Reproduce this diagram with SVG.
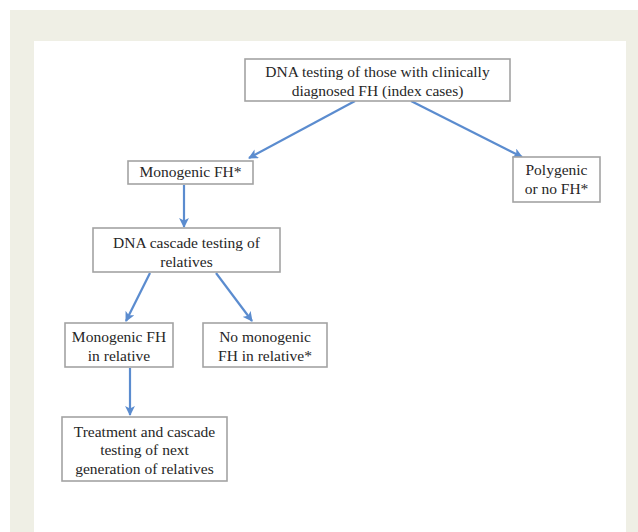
<svg xmlns="http://www.w3.org/2000/svg" width="638" height="532" viewBox="0 0 638 532">
<defs>
<style>
.box{fill:#ffffff;stroke:#a3a3a3;stroke-width:1.6}
.t{font-family:"Liberation Serif","Times New Roman",serif;font-size:15.5px;fill:#262626;text-anchor:middle}
.c{stroke:#5b8ccf;stroke-width:2.2;fill:none;marker-end:url(#ah)}
</style>
<marker id="ah" viewBox="0 0 10 10" refX="9" refY="5" markerWidth="4.5" markerHeight="4.5" orient="auto" markerUnits="strokeWidth">
<path d="M0,0 L10,5 L0,10 L2.5,5 Z" fill="#5b8ccf"/>
</marker>
</defs>
<rect x="0" y="0" width="638" height="532" fill="#ffffff"/>
<rect x="10" y="10" width="628" height="522" fill="#efefe5"/>
<rect x="34" y="41" width="592" height="491" fill="#ffffff"/>
<g id="connectors">
<line class="c" x1="355" y1="101" x2="249" y2="158"/>
<line class="c" x1="411" y1="101" x2="522" y2="157"/>
<line class="c" x1="184" y1="185" x2="184" y2="227"/>
<line class="c" x1="150" y1="273" x2="126" y2="321"/>
<line class="c" x1="216" y1="273" x2="252" y2="321"/>
<line class="c" x1="130" y1="368" x2="130" y2="415"/>
</g>
<g id="n-index">
<rect class="box" x="245" y="59" width="265" height="42"/>
<text class="t" x="377.5" y="77">DNA testing of those with clinically</text>
<text class="t" x="377.5" y="96">diagnosed FH (index cases)</text>
</g>
<g id="n-monogenic">
<rect class="box" x="128" y="161" width="125" height="23"/>
<text class="t" x="190.5" y="177">Monogenic FH*</text>
</g>
<g id="n-polygenic">
<rect class="box" x="513" y="157" width="87" height="45"/>
<text class="t" x="556.5" y="175">Polygenic</text>
<text class="t" x="556.5" y="194">or no FH*</text>
</g>
<g id="n-cascade">
<rect class="box" x="93" y="228" width="187" height="44"/>
<text class="t" x="186.5" y="248">DNA cascade testing of</text>
<text class="t" x="186.5" y="267">relatives</text>
</g>
<g id="n-mono-rel">
<rect class="box" x="65" y="323" width="108" height="44"/>
<text class="t" x="119" y="342">Monogenic FH</text>
<text class="t" x="119" y="361">in relative</text>
</g>
<g id="n-nomono-rel">
<rect class="box" x="203" y="323" width="124" height="44"/>
<text class="t" x="265" y="342">No monogenic</text>
<text class="t" x="265" y="361">FH in relative*</text>
</g>
<g id="n-treatment">
<rect class="box" x="62" y="417" width="165" height="64"/>
<text class="t" x="144.5" y="437">Treatment and cascade</text>
<text class="t" x="144.5" y="455">testing of next</text>
<text class="t" x="144.5" y="474">generation of relatives</text>
</g>
</svg>
